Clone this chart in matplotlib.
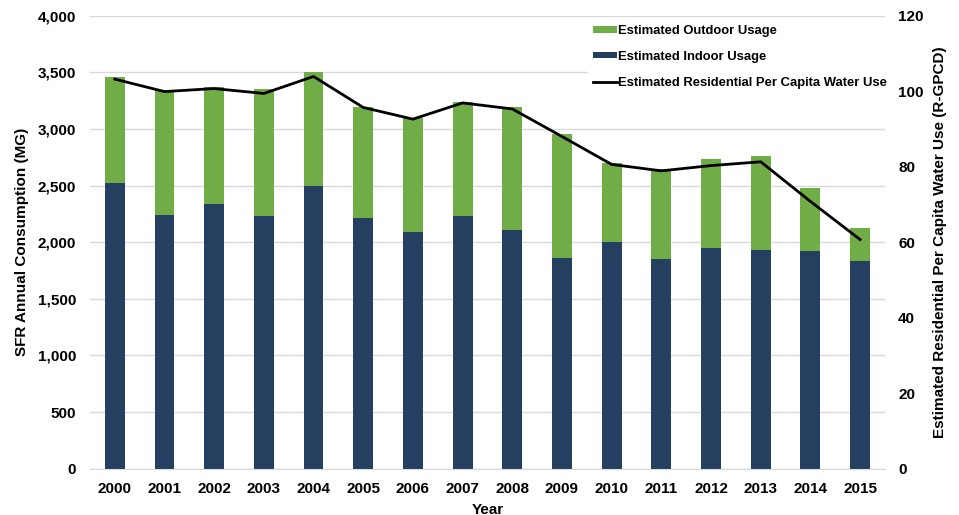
import matplotlib.pyplot as plt
import numpy as np

plt.rcParams['font.family'] = ['Liberation Sans', 'DejaVu Sans']

# Data
years = ['2000', '2001', '2002', '2003', '2004', '2005', '2006', '2007',
         '2008', '2009', '2010', '2011', '2012', '2013', '2014', '2015']
indoor = [2525, 2241, 2333, 2232, 2495, 2211, 2092, 2235,
          2111, 1864, 1998, 1854, 1946, 1933, 1918, 1836]
total = [3456, 3346, 3367, 3352, 3506, 3196, 3100, 3238,
         3191, 2953, 2700, 2648, 2732, 2758, 2481, 2129]
gpcd = [103.2, 99.9, 100.7, 99.4, 103.9, 95.7, 92.6, 96.9,
        95.3, 88.0, 80.6, 78.9, 80.3, 81.3, 70.8, 60.7]

outdoor = [t - i for t, i in zip(total, indoor)]

green = '#70AD47'
navy = '#243F60'

fig = plt.figure(figsize=(9.59, 5.15), dpi=100)
ax = fig.add_axes([0.0938, 0.0899, 0.829, 0.8796])
x = np.arange(len(years))

b1 = ax.bar(x, indoor, width=0.40, color=navy, label='Estimated Indoor Usage', zorder=2)
b2 = ax.bar(x, outdoor, width=0.40, bottom=indoor, color=green,
            label='Estimated Outdoor Usage', zorder=2)

ax.set_ylim(0, 4000)
ax.set_yticks(range(0, 4001, 500))
ax.set_yticklabels([f'{v:,}' for v in range(0, 4001, 500)])
ax.set_xlim(-0.5, 15.5)
ax.set_xticks(x)
ax.set_xticklabels(years)
ax.yaxis.grid(True, color='#d9d9d9', linewidth=1, zorder=0)
ax.set_axisbelow(True)
for s in ['top', 'right', 'left']:
    ax.spines[s].set_visible(False)
ax.spines['bottom'].set_color('#d9d9d9')
ax.tick_params(axis='y', length=0, labelsize=11, pad=10)
ax.tick_params(axis='x', length=0, labelsize=11, pad=9.5)
for lab in ax.get_xticklabels() + ax.get_yticklabels():
    lab.set_fontweight('bold')
ax.set_ylabel('SFR Annual Consumption (MG)', fontsize=11, fontweight='bold', labelpad=6)
ax.set_xlabel('Year', fontsize=11, fontweight='bold', labelpad=5)

ax2 = ax.twinx()
ln, = ax2.plot(x, gpcd, color='black', linewidth=2.0,
               label='Estimated Residential Per Capita Water Use', zorder=3)
ax2.set_ylim(0, 120)
ax2.set_yticks(range(0, 121, 20))
for s in ['top', 'right', 'left', 'bottom']:
    ax2.spines[s].set_visible(False)
ax2.tick_params(length=0, labelsize=11, pad=9.4)
for lab in ax2.get_yticklabels():
    lab.set_fontweight('bold')
ax2.set_ylabel('Estimated Residential Per Capita Water Use (R-GPCD)',
               fontsize=11, fontweight='bold', labelpad=7)

leg = ax2.legend(handles=[b2, b1, ln], loc='upper left',
                 bbox_to_anchor=(588 / 959, 1 - 20 / 515),
                 bbox_transform=fig.transFigure, borderaxespad=0,
                 frameon=True, framealpha=1, fancybox=False,
                 edgecolor='white', facecolor='white', fontsize=9.4,
                 handlelength=1.8, handleheight=0.35, handletextpad=0.1,
                 labelspacing=1.05, borderpad=0.4)
for t in leg.get_texts():
    t.set_fontweight('bold')

fig.savefig('out.png', dpi=100)
